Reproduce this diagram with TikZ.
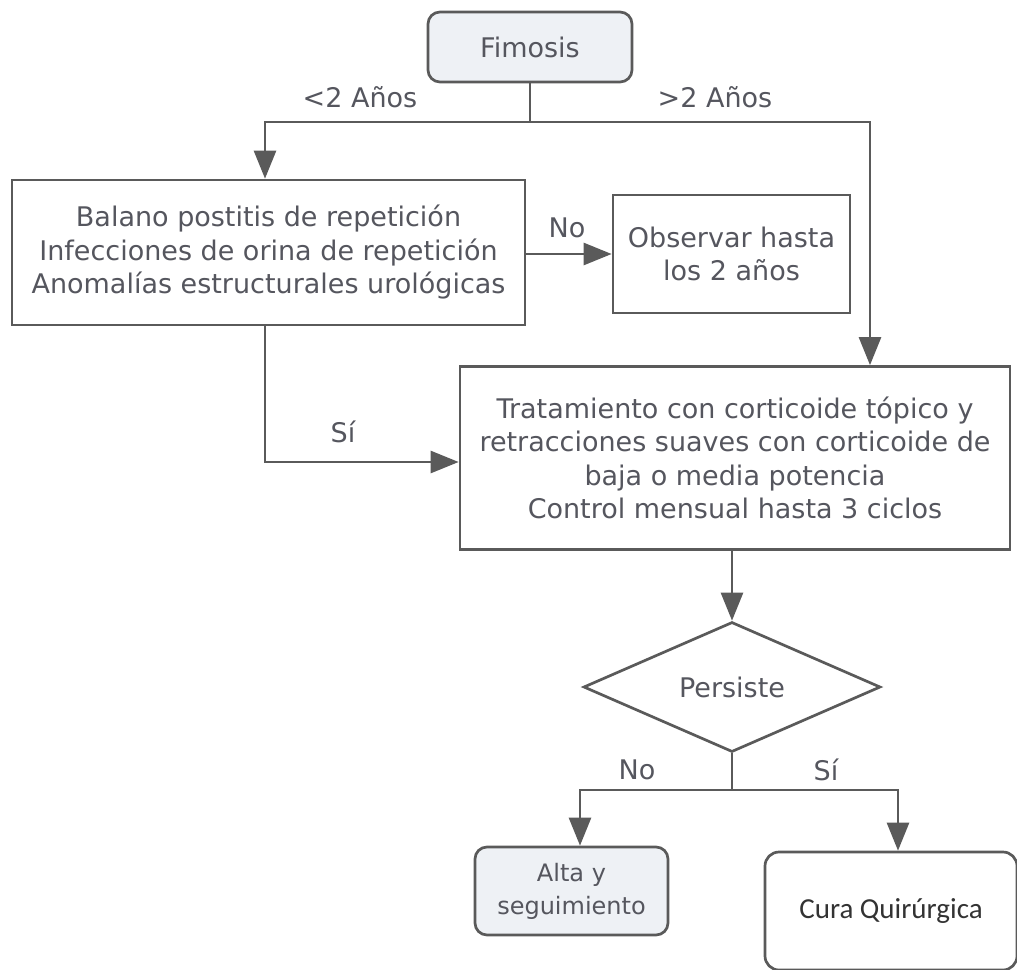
\documentclass[tikz,border=0pt]{standalone}
\usepackage{fontspec}
\setmainfont{DejaVu Sans}
\newfontfamily\curafont{Carlito}
\usetikzlibrary{arrows.meta,shapes.geometric}

\definecolor{linegray}{HTML}{5A5A5A}
\definecolor{textgray}{HTML}{55565E}
\definecolor{softfill}{HTML}{EEF1F5}

\begin{document}
\begin{tikzpicture}[x=1pt,y=-1pt,
  every node/.style={text=textgray,font=\fontsize{27}{33.5}\selectfont},
  flow/.style={draw=linegray,line width=2.7pt},
  arr/.style={flow,-{Triangle[length=28pt,width=22pt]}},
  stepbox/.style={draw=linegray,line width=2.7pt,fill=white,align=center,inner sep=0pt},
  termbox/.style={stepbox,rounded corners=12pt,fill=softfill},
  decision/.style={diamond,draw=linegray,line width=2.7pt,fill=white,inner sep=0pt,
    minimum width=297pt,minimum height=130pt},
  lbl/.style={inner sep=0pt}
]
\useasboundingbox (0,0) rectangle (1017,969);

% boxes
\node[termbox,minimum width=204pt,minimum height=70pt] (fim) at (530,47) {Fimosis};
\node[stepbox,minimum width=513pt,minimum height=145pt] (bal) at (268.5,252.5)
  {Balano postitis de repetición\\Infecciones de orina de repetición\\Anomalías estructurales urológicas};
\node[stepbox,minimum width=237pt,minimum height=118pt] (obs) at (731.5,254) {Observar hasta\\los 2 años};
\node[stepbox,minimum width=550pt,minimum height=183pt] (trat) at (735,458)
  {Tratamiento con corticoide tópico y\\retracciones suaves con corticoide de\\baja o media potencia\\Control mensual hasta 3 ciclos};
\node[decision] (dia) at (732,687) {Persiste};
\node[termbox,minimum width=193pt,minimum height=88pt,font=\fontsize{24}{33}\selectfont] (alta) at (571.5,891)
  {Alta y\\seguimiento};
\node[stepbox,rounded corners=14pt,minimum width=252pt,minimum height=118pt,
  font=\curafont\fontsize{29}{33}\selectfont,text=black!80] (cura) at (891,911) {Cura Quirúrgica};

% junction points
\coordinate (jtop) at (530,122);
\coordinate (jbot) at (732,790);

% connectors
\draw[flow] (fim.south) -- (jtop);
\draw[arr] (jtop) -| ([xshift=-3.5pt]bal.north);
\draw[arr] (jtop) -| ([xshift=135pt]trat.north);
\draw[arr] (bal.east |- obs.west) -- (obs.west);
\draw[arr] ([xshift=-3.5pt]bal.south) |- ([yshift=-4pt]trat.west);
\draw[arr] (trat.south -| dia.north) -- (dia.north);
\draw[flow] (dia.south) -- (jbot);
\draw[arr] (jbot) -| ([xshift=8.5pt]alta.north);
\draw[arr] (jbot) -| ([xshift=7pt]cura.north);

% branch labels
\node[lbl] (lt2) at (360,97) {<2 Años};
\node[lbl] (gt2) at (715,97) {>2 Años};
\node[lbl] (no1) at (567,228) {No};
\node[lbl] (si1) at (343,432) {Sí};
\node[lbl] (no2) at (637,770) {No};
\node[lbl] (si2) at (826,770) {Sí};
\end{tikzpicture}
\end{document}
